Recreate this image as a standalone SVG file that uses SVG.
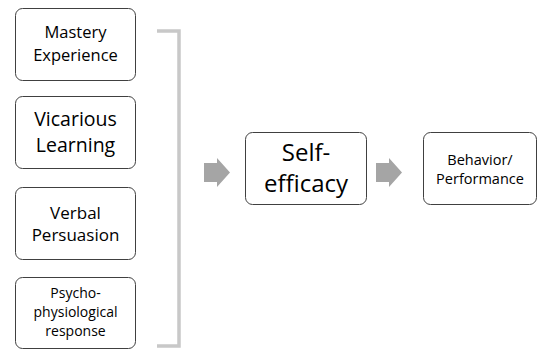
<svg xmlns="http://www.w3.org/2000/svg" width="540" height="351" viewBox="0 0 540 351">
<style>
.box{fill:#fff;stroke:#404040;stroke-width:1}
text{font-family:"Open Sans","Liberation Sans",sans-serif;fill:#000;text-anchor:middle}
.arr{fill:#a5a5a5}
</style>
<rect width="540" height="351" fill="#fff"/>
<g id="mastery"><rect class="box" x="15.5" y="8.5" width="120" height="72" rx="7"/>
<text font-size="16.5" x="75.5"><tspan x="75.5" y="38">Mastery</tspan><tspan x="75.5" y="61">Experience</tspan></text></g>
<g id="vicarious"><rect class="box" x="15.5" y="96.5" width="120" height="72" rx="7"/>
<text font-size="19.5" x="75.5"><tspan x="75.5" y="126">Vicarious</tspan><tspan x="75.5" y="152">Learning</tspan></text></g>
<g id="verbal"><rect class="box" x="15.5" y="187.5" width="120" height="72" rx="7"/>
<text font-size="17" x="75.5"><tspan x="75.5" y="219">Verbal</tspan><tspan x="75.5" y="241">Persuasion</tspan></text></g>
<g id="psycho"><rect class="box" x="15.5" y="277.5" width="120" height="71" rx="7"/>
<text font-size="14" x="75.5"><tspan x="75.5" y="298">Psycho-</tspan><tspan x="75.5" y="317">physiological</tspan><tspan x="75.5" y="336">response</tspan></text></g>
<g id="selfefficacy"><rect class="box" x="245.5" y="132.5" width="121" height="72" rx="7"/>
<text font-size="24" x="306"><tspan x="306" y="161">Self-</tspan><tspan x="306" y="192">efficacy</tspan></text></g>
<g id="behavior"><rect class="box" x="423.5" y="132.5" width="113" height="72" rx="7"/>
<text font-size="14.5" x="480"><tspan x="480" y="165">Behavior/</tspan><tspan x="480" y="184">Performance</tspan></text></g>
<g id="connectors">
<path d="M157 31 H179 V346 H157" fill="none" stroke="#c8c8c8" stroke-width="3.5"/>
<polygon class="arr" points="204,163 217,163 217,158 230,172.5 217,187 217,182 204,182"/>
<polygon class="arr" points="376,163 389,163 389,158 402,172.5 389,187 389,182 376,182"/>
</g>
</svg>
